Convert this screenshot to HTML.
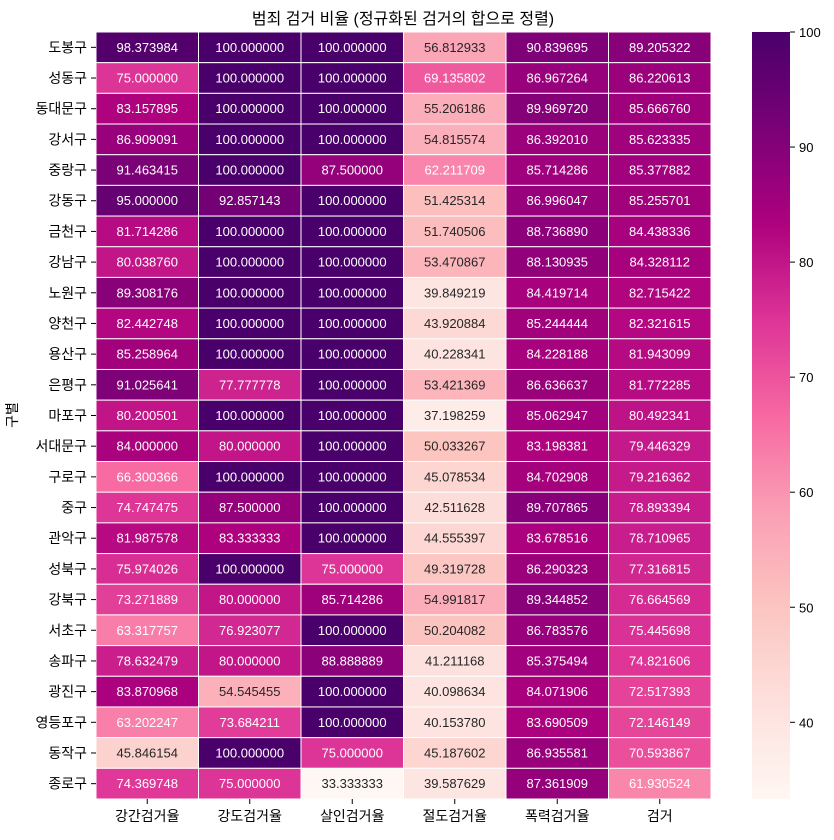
<!DOCTYPE html>
<html><head><meta charset="utf-8">
<style>
html,body{margin:0;padding:0;background:#fff;}
body{width:834px;height:835px;overflow:hidden;font-family:"Liberation Sans","Noto Sans CJK KR",sans-serif;}
</style></head>
<body>
<svg id="chart" width="834" height="835" xmlns="http://www.w3.org/2000/svg" font-family="Liberation Sans, Noto Sans CJK KR, sans-serif">
<defs>
<linearGradient id="cbgrad" x1="0" y1="1" x2="0" y2="0"></linearGradient>
</defs>
<text x="403" y="24" text-anchor="middle" font-size="16" fill="#000">범죄 검거 비율 (정규화된 검거의 합으로 정렬)</text>
<text transform="translate(17,415) rotate(-90)" text-anchor="middle" font-size="14" fill="#000">구별</text>
<g id="cells"></g>
<g id="cbar"></g>
</svg>
<script>
const rows = ["도봉구","성동구","동대문구","강서구","중랑구","강동구","금천구","강남구","노원구","양천구","용산구","은평구","마포구","서대문구","구로구","중구","관악구","성북구","강북구","서초구","송파구","광진구","영등포구","동작구","종로구"];
const cols = ["강간검거율","강도검거율","살인검거율","절도검거율","폭력검거율","검거"];
const rapeRate = [98.373984,75.000000,83.157895,86.909091,91.463415,95.000000,81.714286,80.038760,89.308176,82.442748,85.258964,91.025641,80.200501,84.000000,66.300366,74.747475,81.987578,75.974026,73.271889,63.317757,78.632479,83.870968,63.202247,45.846154,74.369748];
const robberyRate = [100,100,100,100,100,92.857143,100,100,100,100,100,77.777778,100,80,100,87.5,83.333333,100,80,76.923077,80,54.545455,73.684211,100,75];
const murderRate = [100,100,100,100,87.5,100,100,100,100,100,100,100,100,100,100,100,100,75,85.714286,100,88.888889,100,100,75,33.333333];
const theftRate = [56.812933,69.135802,55.206186,54.815574,62.211709,51.425314,51.740506,53.470867,39.849219,43.920884,40.228341,53.421369,37.198259,50.033267,45.078534,42.511628,44.555397,49.319728,54.991817,50.204082,41.211168,40.098634,40.153780,45.187602,39.587629];
const violenceRate = [90.839695,86.967264,89.969720,86.392010,85.714286,86.996047,88.736890,88.130935,84.419714,85.244444,84.228188,86.636637,85.062947,83.198381,84.702908,89.707865,83.678516,86.290323,89.344852,86.783576,85.375494,84.071906,83.690509,86.935581,87.361909];
const arrestTotal = [89.205322,86.220613,85.666760,85.623335,85.377882,85.255701,84.438336,84.328112,82.715422,82.321615,81.943099,81.772285,80.492341,79.446329,79.216362,78.893394,78.710965,77.316815,76.664569,75.445698,74.821606,72.517393,72.146149,70.593867,61.930524];
const cbTicks = [40,50,60,70,80,90,100];

const series=[rapeRate,robberyRate,murderRate,theftRate,violenceRate,arrestTotal];
const vmin=33.333333, vmax=100;
const X0=96,X1=711,Y0=32,Y1=799;
const cw=(X1-X0)/cols.length, rh=(Y1-Y0)/rows.length;
const stops=["#fff7f3","#fde0dd","#fcc5c0","#fa9fb5","#f768a1","#dd3497","#ae017e","#7a0177","#49006a"];
function hex(h){return [1,3,5].map(i=>parseInt(h.substr(i,2),16));}
function cmap(v){let t=(v-vmin)/(vmax-vmin);t=Math.max(0,Math.min(1,t));const p=t*(stops.length-1);const i=Math.min(Math.floor(p),stops.length-2);const f=p-i;const a=hex(stops[i]),b=hex(stops[i+1]);return a.map((c,k)=>Math.round(c+(b[k]-c)*f));}
function lum(c){const l=c.map(x=>{x/=255;return x<=0.03928?x/12.92:Math.pow((x+0.055)/1.055,2.4);});return 0.2126*l[0]+0.7152*l[1]+0.0722*l[2];}
const NS="http://www.w3.org/2000/svg";
function mk(t,a,p){const e=document.createElementNS(NS,t);for(const k in a)e.setAttribute(k,a[k]);p.appendChild(e);return e;}
const cg=document.getElementById('cells');
const xs=c=>X0+c*cw, ys=r=>Y0+r*rh;
series.forEach((s,c)=>{s.forEach((v,r)=>{
  const col=cmap(v);
  const rect=mk('rect',{x:xs(c),y:ys(r),width:cw,height:rh,fill:`rgb(${col})`,stroke:'#fff','stroke-width':1},cg);
  
  
  const t=mk('text',{x:xs(c)+cw/2,y:ys(r)+rh/2+4.5,'text-anchor':'middle','font-size':13,fill:lum(col)>0.408?'#262626':'#fff'},cg);
  t.textContent=v.toFixed(6);
  
  
});});
rows.forEach((n,r)=>{
  const y=ys(r)+rh/2;
  const tk=mk('line',{x1:X0-5,x2:X0,y1:y,y2:y,stroke:'#000','stroke-width':1},cg);
  
  
  const t=mk('text',{x:X0-9,y:y+5,'text-anchor':'end','font-size':14,fill:'#000'},cg);
  t.textContent=n;
  
  
});
cols.forEach((n,c)=>{
  const x=xs(c)+cw/2;
  const tk=mk('line',{x1:x,x2:x,y1:Y1,y2:Y1+5,stroke:'#000','stroke-width':1},cg);
  
  
  const t=mk('text',{x:x,y:Y1+22,'text-anchor':'middle','font-size':14,fill:'#000'},cg);
  t.textContent=n;
  
  
});
const grad=document.getElementById('cbgrad');
stops.forEach((s,i)=>mk('stop',{offset:i/(stops.length-1),'stop-color':s},grad));
const cb=document.getElementById('cbar');
const CX0=752,CX1=790;
const cby=v=>Y1-(v-vmin)/(vmax-vmin)*(Y1-Y0);
const cr=mk('rect',{x:CX0,y:Y0,width:CX1-CX0,height:Y1-Y0,fill:'url(#cbgrad)'},cb);


cbTicks.forEach(v=>{
  const y=cby(v);
  const tk=mk('line',{x1:CX1,x2:CX1+5,y1:y,y2:y,stroke:'#000','stroke-width':1},cb);
  
  
  const t=mk('text',{x:CX1+9,y:y+5,'font-size':13,fill:'#000'},cb);
  t.textContent=v;
  
  
});
</script>
</body></html>
